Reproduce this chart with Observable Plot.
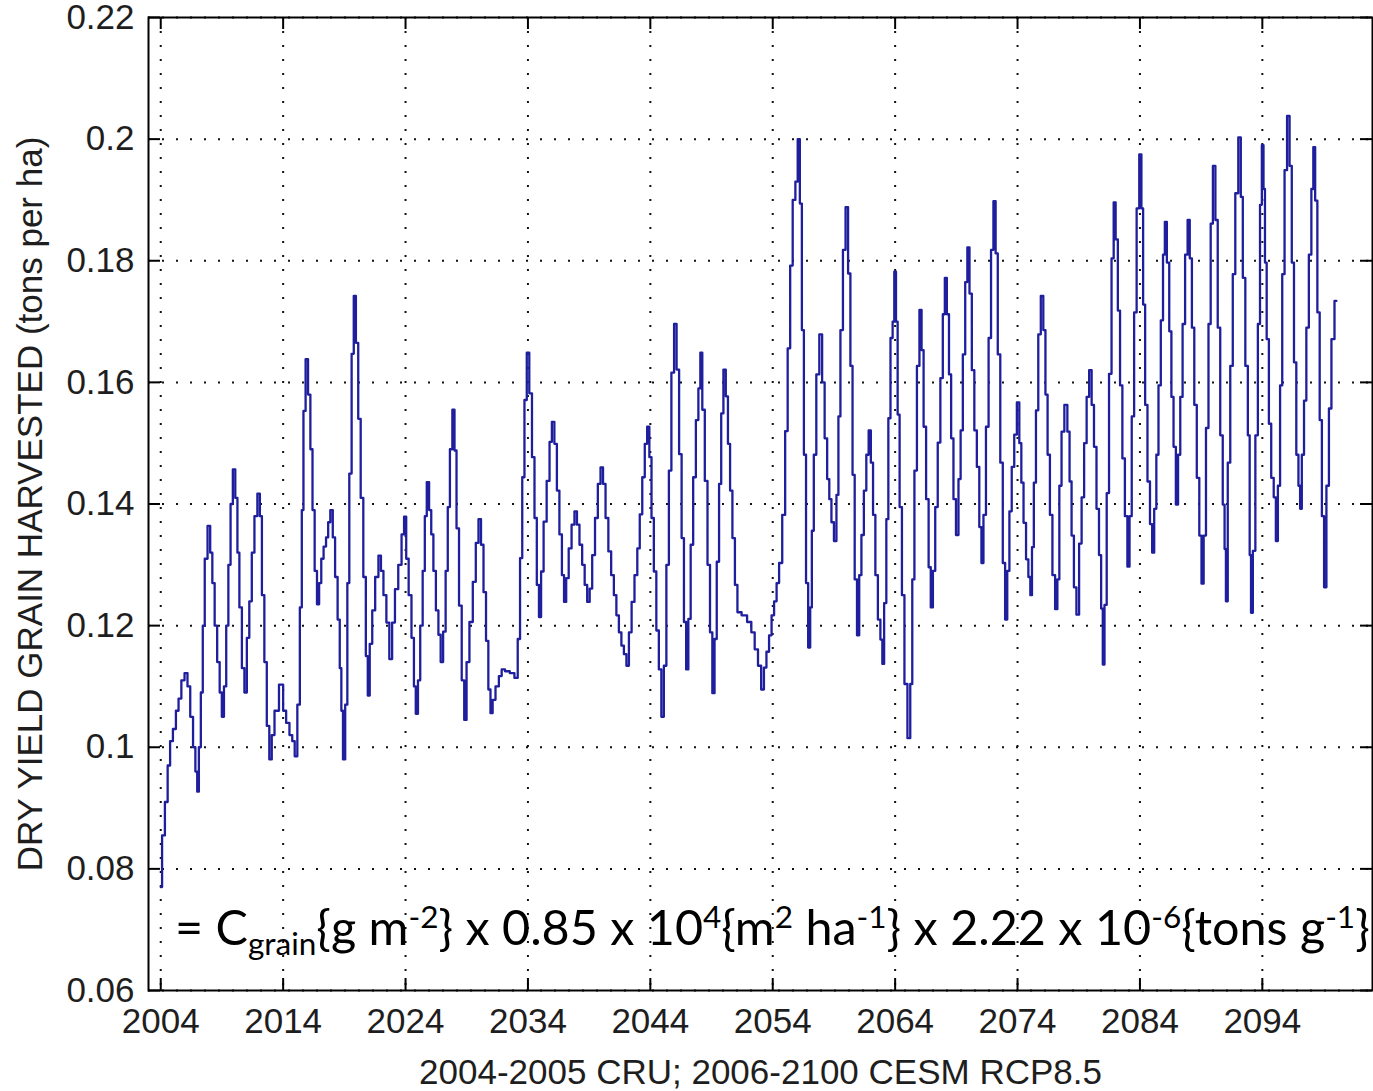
<!DOCTYPE html>
<html>
<head>
<meta charset="utf-8">
<script src="https://cdn.jsdelivr.net/npm/d3@7"></script>
<script src="https://cdn.jsdelivr.net/npm/@observablehq/plot@0.6"></script>
<style>
  html, body { margin: 0; padding: 0; background: #fff; }
  #chart { position: relative; width: 1373px; height: 1091px; overflow: hidden; }
</style>
</head>
<body>
<div id="chart"></div>
<script>
// ---- data ----
const years = [
  2004.00,2004.22,2004.46,2004.67,2004.86,2005.13,2005.35,2005.56,2005.81,2006.08,
  2006.29,2006.53,2006.75,2006.91,2007.05,2007.18,2007.37,2007.50,2007.69,2007.96,
  2008.12,2008.31,2008.50,2008.72,2008.91,2009.07,2009.26,2009.44,2009.61,2009.80,
  2009.98,2010.20,2010.33,2010.52,2010.74,2010.93,2011.14,2011.33,2011.55,2011.76,
  2012.03,2012.17,2012.36,2012.57,2012.76,2012.98,2013.16,2013.43,2013.89,2014.11,
  2014.38,2014.65,2014.84,2015.05,2015.27,2015.46,2015.59,2015.73,2015.94,2016.13,
  2016.32,2016.48,2016.67,2016.86,2017.02,2017.21,2017.40,2017.61,2017.75,2017.96,
  2018.15,2018.34,2018.56,2018.69,2018.82,2018.96,2019.18,2019.31,2019.50,2019.69,
  2019.85,2020.04,2020.23,2020.44,2020.66,2020.85,2020.98,2021.17,2021.39,2021.65,
  2021.92,2022.06,2022.33,2022.54,2022.81,2023.00,2023.27,2023.54,2023.81,2023.95,
  2024.16,2024.35,2024.62,2024.75,2024.92,2025.11,2025.29,2025.51,2025.64,2025.83,
  2026.02,2026.18,2026.37,2026.59,2026.78,2026.96,2027.18,2027.37,2027.53,2027.72,
  2027.93,2028.07,2028.26,2028.48,2028.70,2028.89,2029.08,2029.36,2029.63,2029.85,
  2030.07,2030.26,2030.48,2030.67,2030.86,2031.02,2031.21,2031.49,2031.76,2031.95,
  2032.31,2032.72,2033.07,2033.26,2033.45,2033.62,2033.81,2034.00,2034.22,2034.44,
  2034.63,2034.82,2034.98,2035.17,2035.39,2035.67,2035.86,2036.05,2036.27,2036.46,
  2036.68,2036.87,2037.03,2037.22,2037.44,2037.69,2037.91,2038.10,2038.32,2038.54,
  2038.73,2038.95,2039.14,2039.36,2039.60,2039.82,2040.04,2040.23,2040.45,2040.69,
  2040.91,2041.13,2041.32,2041.54,2041.73,2041.95,2042.14,2042.36,2042.58,2042.83,
  2043.04,2043.23,2043.45,2043.64,2043.84,2044.00,2044.19,2044.38,2044.60,2044.79,
  2045.01,2045.20,2045.42,2045.61,2045.83,2046.05,2046.24,2046.46,2046.65,2046.84,
  2047.01,2047.20,2047.39,2047.61,2047.83,2048.02,2048.15,2048.34,2048.56,2048.78,
  2048.97,2049.16,2049.33,2049.52,2049.71,2049.87,2050.07,2050.26,2050.42,2050.61,
  2050.80,2051.02,2051.21,2051.70,2052.11,2052.39,2052.66,2052.93,2053.18,2053.38,
  2053.59,2053.81,2054.00,2054.22,2054.41,2054.63,2054.92,2055.11,2055.33,2055.52,
  2055.74,2055.96,2056.12,2056.31,2056.45,2056.64,2056.80,2056.99,2057.13,2057.26,
  2057.45,2057.67,2057.94,2058.13,2058.35,2058.54,2058.70,2058.89,2059.11,2059.30,
  2059.43,2059.63,2059.84,2060.06,2060.25,2060.44,2060.60,2060.79,2060.98,2061.15,
  2061.34,2061.55,2061.74,2061.93,2062.10,2062.29,2062.48,2062.70,2062.89,2063.02,
  2063.18,2063.38,2063.51,2063.73,2063.86,2064.00,2064.14,2064.27,2064.46,2064.65,
  2064.87,2065.14,2065.33,2065.47,2065.68,2065.88,2066.09,2066.23,2066.42,2066.64,
  2066.83,2066.99,2067.18,2067.37,2067.59,2067.80,2067.99,2068.13,2068.32,2068.48,
  2068.67,2068.86,2069.08,2069.27,2069.43,2069.63,2069.82,2069.98,2070.17,2070.36,
  2070.58,2070.77,2070.98,2071.12,2071.31,2071.53,2071.74,2071.93,2072.13,2072.29,
  2072.48,2072.70,2072.89,2073.08,2073.24,2073.43,2073.62,2073.84,2074.05,2074.24,
  2074.38,2074.60,2074.79,2074.98,2075.11,2075.25,2075.41,2075.60,2075.79,2076.01,
  2076.20,2076.36,2076.55,2076.74,2076.96,2077.18,2077.33,2077.50,2077.69,2077.96,
  2078.18,2078.32,2078.51,2078.70,2078.92,2079.14,2079.33,2079.55,2079.74,2079.96,
  2080.15,2080.34,2080.56,2080.75,2080.91,2081.02,2081.19,2081.38,2081.57,2081.79,
  2081.92,2082.11,2082.28,2082.47,2082.66,2082.88,2083.07,2083.23,2083.43,2083.62,
  2083.84,2084.05,2084.19,2084.33,2084.52,2084.71,2084.93,2085.07,2085.26,2085.42,
  2085.61,2085.80,2085.97,2086.10,2086.30,2086.49,2086.65,2086.84,2087.03,2087.20,
  2087.39,2087.58,2087.80,2087.99,2088.15,2088.34,2088.54,2088.75,2088.95,2089.11,
  2089.30,2089.49,2089.71,2089.85,2090.07,2090.26,2090.45,2090.67,2090.86,2090.97,
  2091.08,2091.27,2091.49,2091.68,2091.90,2092.17,2092.31,2092.50,2092.72,2092.91,
  2093.02,2093.13,2093.32,2093.54,2093.73,2093.89,2094.03,2094.16,2094.27,2094.44,
  2094.63,2094.82,2095.04,2095.17,2095.37,2095.53,2095.72,2095.91,2096.13,2096.32,
  2096.49,2096.68,2096.87,2097.03,2097.14,2097.31,2097.50,2097.69,2097.91,2098.10,
  2098.23,2098.40,2098.59,2098.78,2098.95,2099.14,2099.33,2099.55,2099.74,2100.05
];
const yieldTons = [
  0.0770,0.0855,0.0910,0.0970,0.1010,0.1030,0.1060,0.1080,0.1110,0.1122,
  0.1100,0.1050,0.1000,0.0960,0.0927,0.1000,0.1090,0.1200,0.1310,0.1364,
  0.1320,0.1270,0.1200,0.1140,0.1090,0.1050,0.1100,0.1200,0.1300,0.1400,
  0.1457,0.1410,0.1320,0.1230,0.1130,0.1090,0.1180,0.1240,0.1320,0.1380,
  0.1417,0.1380,0.1250,0.1140,0.1035,0.0980,0.1020,0.1060,0.1103,0.1060,
  0.1040,0.1020,0.1010,0.0985,0.1070,0.1230,0.1390,0.1553,0.1638,0.1580,
  0.1490,0.1390,0.1290,0.1235,0.1270,0.1310,0.1330,0.1345,0.1370,0.1390,
  0.1345,0.1280,0.1210,0.1130,0.1060,0.0980,0.1070,0.1270,0.1450,0.1647,
  0.1742,0.1665,0.1540,0.1410,0.1280,0.1150,0.1085,0.1170,0.1225,0.1280,
  0.1315,0.1290,0.1250,0.1205,0.1145,0.1205,0.1260,0.1300,0.1350,0.1379,
  0.1310,0.1250,0.1180,0.1100,0.1055,0.1110,0.1200,0.1290,0.1380,0.1436,
  0.1390,0.1350,0.1290,0.1225,0.1185,0.1140,0.1190,0.1290,0.1395,0.1490,
  0.1555,0.1488,0.1360,0.1233,0.1110,0.1045,0.1140,0.1206,0.1272,0.1336,
  0.1375,0.1333,0.1255,0.1175,0.1095,0.1056,0.1078,0.1100,0.1117,0.1128,
  0.1125,0.1122,0.1114,0.1178,0.1311,0.1444,0.1571,0.1649,0.1582,0.1477,
  0.1377,0.1267,0.1214,0.1289,0.1371,0.1438,0.1502,0.1535,0.1499,0.1422,
  0.1350,0.1283,0.1239,0.1278,0.1327,0.1366,0.1388,0.1366,0.1333,0.1300,
  0.1267,0.1239,0.1261,0.1316,0.1377,0.1433,0.1460,0.1433,0.1377,0.1322,
  0.1283,0.1250,0.1217,0.1189,0.1167,0.1153,0.1134,0.1189,0.1239,0.1283,
  0.1327,0.1383,0.1444,0.1499,0.1527,0.1477,0.1377,0.1289,0.1192,0.1128,
  0.1050,0.1134,0.1300,0.1455,0.1616,0.1696,0.1621,0.1482,0.1344,0.1206,
  0.1128,0.1211,0.1333,0.1444,0.1538,0.1590,0.1649,0.1555,0.1438,0.1300,
  0.1189,0.1089,0.1178,0.1305,0.1433,0.1549,0.1621,0.1577,0.1499,0.1422,
  0.1344,0.1267,0.1222,0.1217,0.1206,0.1189,0.1161,0.1134,0.1095,0.1131,
  0.1157,0.1184,0.1217,0.1240,0.1270,0.1303,0.1382,0.1520,0.1656,0.1792,
  0.1900,0.1930,0.2000,0.1894,0.1686,0.1481,0.1270,0.1164,0.1230,0.1356,
  0.1481,0.1613,0.1679,0.1600,0.1508,0.1441,0.1408,0.1370,0.1339,0.1415,
  0.1544,0.1686,0.1818,0.1888,0.1779,0.1627,0.1448,0.1276,0.1184,0.1283,
  0.1349,0.1422,0.1481,0.1521,0.1468,0.1382,0.1283,0.1210,0.1177,0.1137,
  0.1237,0.1375,0.1541,0.1673,0.1700,0.1782,0.1700,0.1547,0.1395,0.1250,
  0.1104,0.1015,0.1104,0.1276,0.1455,0.1627,0.1719,0.1653,0.1527,0.1408,
  0.1296,0.1230,0.1290,0.1395,0.1501,0.1607,0.1712,0.1772,0.1712,0.1613,
  0.1508,0.1408,0.1349,0.1441,0.1521,0.1646,0.1765,0.1822,0.1746,0.1620,
  0.1521,0.1461,0.1362,0.1303,0.1382,0.1527,0.1673,0.1818,0.1898,0.1812,
  0.1646,0.1468,0.1303,0.1210,0.1290,0.1388,0.1461,0.1514,0.1567,0.1500,
  0.1435,0.1369,0.1309,0.1280,0.1250,0.1329,0.1435,0.1554,0.1679,0.1742,
  0.1686,0.1580,0.1481,0.1382,0.1283,0.1227,0.1276,0.1430,0.1519,0.1563,
  0.1519,0.1437,0.1348,0.1263,0.1218,0.1335,0.1411,0.1500,0.1576,0.1620,
  0.1563,0.1494,0.1392,0.1316,0.1228,0.1136,0.1234,0.1418,0.1614,0.1804,
  0.1896,0.1835,0.1718,0.1595,0.1475,0.1380,0.1297,0.1380,0.1544,0.1715,
  0.1886,0.1975,0.1886,0.1728,0.1563,0.1437,0.1367,0.1320,0.1392,0.1481,
  0.1595,0.1702,0.1810,0.1864,0.1797,0.1684,0.1576,0.1494,0.1399,0.1481,
  0.1576,0.1696,0.1810,0.1867,0.1804,0.1690,0.1563,0.1443,0.1348,0.1269,
  0.1348,0.1525,0.1696,0.1861,0.1956,0.1867,0.1690,0.1513,0.1399,0.1326,
  0.1240,0.1468,0.1627,0.1778,0.1911,0.2003,0.1905,0.1772,0.1627,0.1513,
  0.1316,0.1221,0.1323,0.1513,0.1696,0.1892,0.1990,0.1918,0.1797,0.1671,
  0.1532,0.1443,0.1411,0.1339,0.1430,0.1595,0.1778,0.1949,0.2038,0.1956,
  0.1797,0.1633,0.1481,0.1430,0.1392,0.1481,0.1570,0.1690,0.1810,0.1918,
  0.1987,0.1899,0.1715,0.1538,0.1380,0.1263,0.1430,0.1557,0.1671,0.1734
];
const xTicks = [2004, 2014, 2024, 2034, 2044, 2054, 2064, 2074, 2084, 2094];
const yTicks = [0.06, 0.08, 0.10, 0.12, 0.14, 0.16, 0.18, 0.20, 0.22];
const xLabel = "2004-2005 CRU; 2006-2100 CESM RCP8.5";
const yLabel = "DRY YIELD GRAIN HARVESTED (tons per ha)";

// ---- chart ----
const data = years.map((y, i) => ({year: y, value: yieldTons[i]}));
const W = 1373, H = 1091, mL = 148, mR = 1, mT = 17, mB = 101;
const plotW = W - mL - mR, plotH = H - mT - mB;
const tickLen = 12;
const gridStyle = {stroke: "#111", strokeOpacity: 1, strokeWidth: 2, strokeDasharray: "2 12"};

const chart = Plot.plot({
  width: W, height: H,
  marginLeft: mL, marginRight: mR, marginTop: mT, marginBottom: mB,
  style: {fontFamily: "'Liberation Sans', Arial, sans-serif", fontSize: "35px", color: "#1e1e1e", background: "#fff"},
  x: {domain: [2003, 2103], label: null},
  y: {domain: [0.06, 0.22], label: null},
  marks: [
    Plot.gridX(xTicks, gridStyle),
    Plot.gridY(yTicks, gridStyle),
    Plot.line(data, {x: "year", y: "value", curve: "step", stroke: "#1f1f9e", strokeWidth: 2.3}),
    Plot.ruleX(xTicks, {x: d => d, insetTop: plotH - tickLen, stroke: "#000", strokeWidth: 2}),
    Plot.ruleX(xTicks, {x: d => d, insetBottom: plotH - tickLen, stroke: "#000", strokeWidth: 2}),
    Plot.ruleY(yTicks, {y: d => d, insetRight: plotW - tickLen, stroke: "#000", strokeWidth: 2}),
    Plot.ruleY(yTicks, {y: d => d, insetLeft: plotW - tickLen, stroke: "#000", strokeWidth: 2}),
    Plot.frame({stroke: "#000", strokeWidth: 2}),
    Plot.axisX(xTicks, {tickSize: 0, tickPadding: 18, label: null, tickFormat: d => String(d), fontSize: 35}),
    Plot.axisY(yTicks, {tickSize: 0, tickPadding: 14, label: null, tickFormat: d => String(+d.toFixed(2)), fontSize: 35}),
    Plot.text([xLabel], {frameAnchor: "bottom", dy: 82, lineAnchor: "middle", textAnchor: "middle", text: d => d, fontSize: 35}),
    Plot.text([yLabel], {frameAnchor: "left", dx: -118, rotate: -90, lineAnchor: "middle", textAnchor: "middle", text: d => d, fontSize: 35})
  ]
});
document.getElementById("chart").appendChild(chart);

// ---- formula annotation (Calibri-like text inside the plot) ----
const svg = d3.select(chart);
const F = 50;
const eq = svg.append("text")
  .attr("x", 175).attr("y", 945)
  .attr("text-anchor", "start")
  .attr("font-family", "Lato, 'Open Sans', sans-serif")
  .attr("fill", "#000")
  .attr("font-size", F);
const parts = [
  ["= C", 0, 1], ["grain", 0.2, 0.65], ["{g m", -0.2, 1], ["-2", -0.36, 0.65],
  ["} x 0.85 x 10", 0.36, 1], ["4", -0.36, 0.65], ["{m", 0.36, 1], ["2", -0.36, 0.65],
  [" ha", 0.36, 1], ["-1", -0.36, 0.65], ["} x 2.22 x 10", 0.36, 1], ["-6", -0.36, 0.65],
  ["{tons g", 0.36, 1], ["-1", -0.36, 0.65], ["}", 0.36, 1]
];
function buildEq(size) {
  eq.selectAll("tspan").remove();
  eq.attr("font-size", size);
  for (const [t, dy, s] of parts) {
    eq.append("tspan").attr("dy", dy * size).attr("font-size", s * size).text(t);
  }
}
buildEq(F);
const w = eq.node().getComputedTextLength();
if (w > 0) buildEq(F * 1195 / w);
</script>
</body>
</html>
